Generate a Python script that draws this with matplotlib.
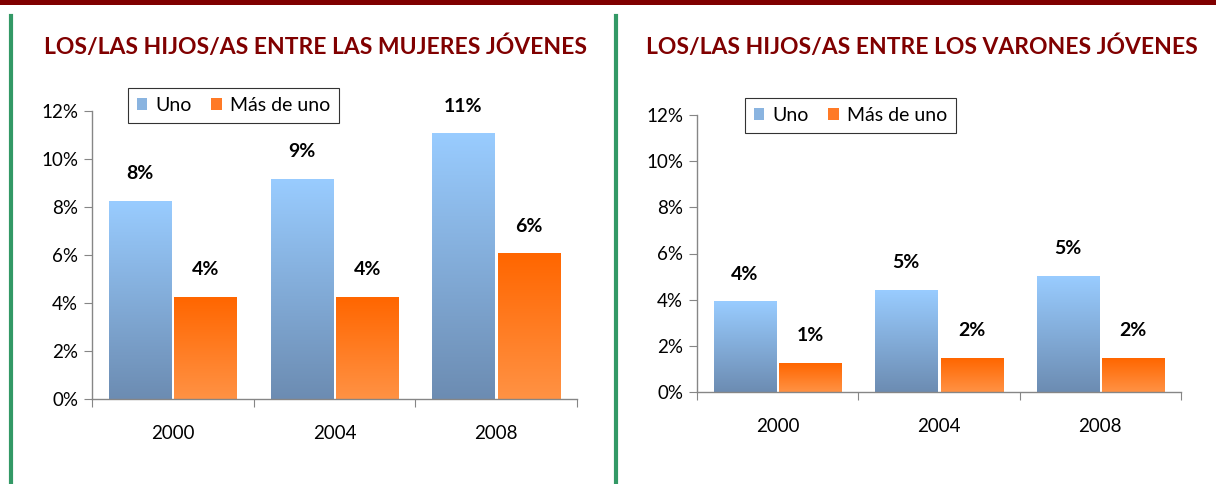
import matplotlib
matplotlib.use("Agg")
import matplotlib.pyplot as plt
import numpy as np
from matplotlib.colors import LinearSegmentedColormap
from matplotlib.patches import Rectangle, Patch
from matplotlib.lines import Line2D

plt.rcParams['font.family'] = ['Lato', 'DejaVu Sans']

# ******************
# Data
# ******************
years = ["2000", "2004", "2008"]
series_names = ["Uno", "Más de uno"]

mujeres_uno = [8.25, 9.15, 11.05]
mujeres_mas = [4.25, 4.25, 6.05]
mujeres_uno_lbl = ["8%", "9%", "11%"]
mujeres_mas_lbl = ["4%", "4%", "6%"]

varones_uno = [3.9, 4.4, 5.0]
varones_mas = [1.25, 1.45, 1.45]
varones_uno_lbl = ["4%", "5%", "5%"]
varones_mas_lbl = ["1%", "2%", "2%"]

titles = ["LOS/LAS HIJOS/AS ENTRE LAS MUJERES JÓVENES",
          "LOS/LAS HIJOS/AS ENTRE LOS VARONES JÓVENES"]

# gradients (bottom colour -> top colour)
blue_grad = LinearSegmentedColormap.from_list("b", ["#6C8CB2", "#99CCFF"])
orange_grad = LinearSegmentedColormap.from_list("o", ["#FF9244", "#FF6600"])
grad = np.linspace(0, 1, 256).reshape(-1, 1)

TITLE_COLOR = "#800000"
SPINE_COLOR = "#868686"


def gradient_bars(ax, x, heights, width, cmap):
    bars = ax.bar(x, heights, width, color="none", edgecolor="none", zorder=2)
    for b in bars:
        x0, y0 = b.get_x(), b.get_y()
        w, h = b.get_width(), b.get_height()
        ax.imshow(grad, cmap=cmap, origin="lower", aspect="auto",
                  extent=(x0, x0 + w, y0, y0 + h), zorder=2)
    return bars


def plot_panel(ax, uno, mas, uno_lbl, mas_lbl, legend_pos):
    x = np.arange(len(years))
    w = 0.385
    gap = 0.01
    b1 = gradient_bars(ax, x - w / 2 - gap, uno, w, blue_grad)
    b2 = gradient_bars(ax, x + w / 2 + gap, mas, w, orange_grad)

    for bars, lbls in ((b1, uno_lbl), (b2, mas_lbl)):
        for b, l in zip(bars, lbls):
            ax.annotate(l, (b.get_x() + b.get_width() / 2, b.get_height()),
                        xytext=(0, 20), textcoords="offset points",
                        ha="center", va="center", fontsize=14,
                        fontweight="bold", color="black")

    ax.set_xlim(-0.5, 2.5)
    ax.set_ylim(0, 12)
    ax.set_yticks(range(0, 13, 2))
    ax.set_yticklabels([f"{v}%" for v in range(0, 13, 2)], fontsize=13.5)
    ax.set_xticks([-0.5, 0.5, 1.5, 2.5])
    ax.set_xticklabels([])
    ax.set_xticks(x, minor=True)
    ax.set_xticklabels(years, minor=True, fontsize=13.5)
    ax.tick_params(axis="x", which="minor", length=0, pad=19)
    ax.tick_params(axis="x", which="major", length=6, color=SPINE_COLOR, direction="out")
    ax.tick_params(axis="y", length=6, color=SPINE_COLOR, direction="out", pad=4)
    for s in ("top", "right"):
        ax.spines[s].set_visible(False)
    for s in ("left", "bottom"):
        ax.spines[s].set_color(SPINE_COLOR)
        ax.spines[s].set_linewidth(1.0)

    handles = [Patch(facecolor="#8AB4E0", edgecolor="none"),
               Patch(facecolor="#FF7A26", edgecolor="none")]
    leg = ax.legend(handles, series_names, loc="upper left",
                    bbox_to_anchor=legend_pos, bbox_transform=ax.figure.transFigure,
                    ncol=2, fontsize=14, frameon=True, fancybox=False,
                    handlelength=0.55, handleheight=0.55, handletextpad=0.4,
                    columnspacing=1.0, borderpad=0.45, borderaxespad=0)
    leg.get_frame().set_edgecolor("black")
    leg.get_frame().set_linewidth(0.8)


fig = plt.figure(figsize=(12.16, 4.84), dpi=100)

ax1 = fig.add_axes([92 / 1216, 1 - 399 / 484, 485 / 1216, 288 / 484])
ax2 = fig.add_axes([697 / 1216, 1 - 392 / 484, 484 / 1216, 277 / 484])

plot_panel(ax1, mujeres_uno, mujeres_mas, mujeres_uno_lbl, mujeres_mas_lbl,
           (128 / 1216, 1 - 88 / 484))
plot_panel(ax2, varones_uno, varones_mas, varones_uno_lbl, varones_mas_lbl,
           (745 / 1216, 1 - 98 / 484))

fig.text(316 / 1216, 1 - 47 / 484, titles[0], ha="center", va="center",
         fontsize=16.5, fontweight="bold", color=TITLE_COLOR)
fig.text(922 / 1216, 1 - 47 / 484, titles[1], ha="center", va="center",
         fontsize=16.5, fontweight="bold", color=TITLE_COLOR)

# decorations: top band and green separators
fig.add_artist(Rectangle((0, 1 - 5 / 484), 1, 5 / 484, transform=fig.transFigure,
                         facecolor="#800000", edgecolor="none"))
fig.add_artist(Line2D([10.5 / 1216] * 2, [0, 1 - 16 / 484], transform=fig.transFigure,
                      color="#339966", linewidth=3))
fig.add_artist(Line2D([615.5 / 1216] * 2, [0, 1 - 16 / 484], transform=fig.transFigure,
                      color="#339966", linewidth=3))

fig.savefig("out.png", dpi=100)
